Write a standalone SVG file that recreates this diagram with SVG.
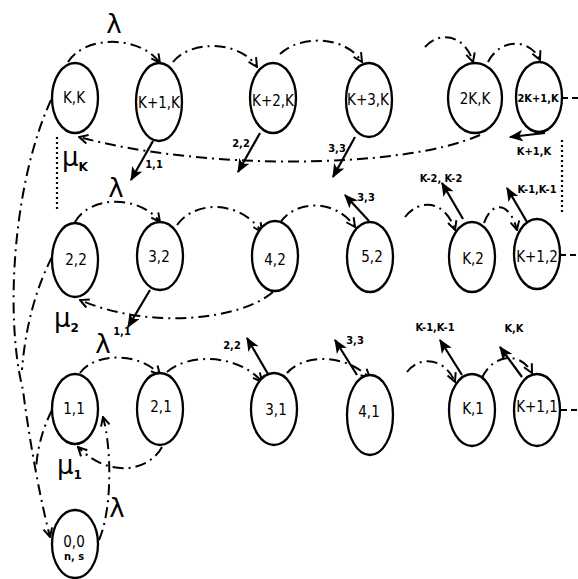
<svg xmlns="http://www.w3.org/2000/svg" width="578" height="579" viewBox="0 0 578 579">
<style>
.n ellipse{fill:#fff;stroke:#000;stroke-width:2.3}
.t{font-family:"DejaVu Sans Condensed","DejaVu Sans",sans-serif;font-size:15px;text-anchor:middle;fill:#000}
.s{font-family:"DejaVu Sans Condensed","DejaVu Sans",sans-serif;font-size:11px;font-weight:bold;text-anchor:middle;fill:#000}
.g{font-family:"DejaVu Sans","Liberation Sans",sans-serif;font-size:26px;fill:#000}
.dd{fill:none;stroke:#000;stroke-width:2;stroke-dasharray:11 5 2 5}
.sl{fill:none;stroke:#000;stroke-width:2.2}
.dt{fill:none;stroke:#000;stroke-width:2.2;stroke-dasharray:2 3}
.dh{fill:none;stroke:#000;stroke-width:2;stroke-dasharray:6 4}
</style>
<defs>
<marker id="o" viewBox="0 0 10 10" refX="9" refY="5" markerWidth="11" markerHeight="11" markerUnits="userSpaceOnUse" orient="auto">
<path d="M1,1 L9,5 L1,9" fill="none" stroke="#000" stroke-width="1.8"/>
</marker>
<marker id="f" viewBox="0 0 12 10" refX="11" refY="5" markerWidth="14" markerHeight="12" markerUnits="userSpaceOnUse" orient="auto">
<path d="M0,0 L12,5 L0,10 L3,5 z" fill="#000"/>
</marker>
</defs>
<g id="connectors">
<path class="dd" d="M68,62 C85,35 140,35 160,63" marker-end="url(#o)"/>
<path class="dd" d="M173,62 C190,40 240,40 257,67" marker-end="url(#o)"/>
<path class="dd" d="M280,54 C300,35 345,35 362,62" marker-end="url(#o)"/>
<path class="dd" d="M425,47 C440,30 465,35 473,62" marker-end="url(#o)"/>
<path class="dd" d="M488,62 C500,38 530,38 540,60" marker-end="url(#o)"/>
<path class="dh" d="M562,98 L578,98"/>
<path class="dd" d="M480,135 C400,170 200,170 79,137" marker-end="url(#o)"/>
<path class="sl" d="M545,133 L510,137" marker-end="url(#f)"/>
<path class="dt" d="M57,137 L57,210"/>
<path class="dt" d="M562,140 L562,212"/>
<path class="sl" d="M153,141 L131,180" marker-end="url(#f)"/>
<path class="sl" d="M260,133 L238,172" marker-end="url(#f)"/>
<path class="sl" d="M355,137 L333,177" marker-end="url(#f)"/>
<path class="dd" d="M51,100 C12,185 5,320 23,390 C28,430 38,490 50,537" marker-end="url(#o)"/>
<path class="dd" d="M52,257 C35,290 25,330 22,370"/>
<path class="dd" d="M52,410 C42,430 37,450 36,470"/>
<path class="dd" d="M75,222 C90,195 140,195 160,222" marker-end="url(#o)"/>
<path class="dd" d="M177,225 C195,200 240,200 262,232" marker-end="url(#o)"/>
<path class="dd" d="M280,223 C295,200 335,198 355,227" marker-end="url(#o)"/>
<path class="sl" d="M369,221 L345,195" marker-end="url(#f)"/>
<path class="dd" d="M405,217 C420,198 445,200 455,230" marker-end="url(#o)"/>
<path class="sl" d="M463,219 L442,183" marker-end="url(#f)"/>
<path class="dd" d="M484,223 C492,200 510,202 517,230" marker-end="url(#o)"/>
<path class="sl" d="M527,222 L507,188" marker-end="url(#f)"/>
<path class="dh" d="M560,255 L578,255"/>
<path class="dd" d="M273,292 C240,320 150,330 80,300" marker-end="url(#o)"/>
<path class="sl" d="M150,290 L128,327" marker-end="url(#f)"/>
<path class="dd" d="M80,373 C95,352 140,352 160,375" marker-end="url(#o)"/>
<path class="dd" d="M167,372 C190,352 240,355 262,382" marker-end="url(#o)"/>
<path class="sl" d="M268,374 L247,338" marker-end="url(#f)"/>
<path class="dd" d="M287,373 C300,357 340,350 370,378" marker-end="url(#o)"/>
<path class="sl" d="M357,375 L335,340" marker-end="url(#f)"/>
<path class="dd" d="M407,372 C420,355 445,358 455,382" marker-end="url(#o)"/>
<path class="sl" d="M462,375 L440,340" marker-end="url(#f)"/>
<path class="dd" d="M482,378 C492,355 520,350 532,373" marker-end="url(#o)"/>
<path class="sl" d="M522,377 L500,347" marker-end="url(#f)"/>
<path class="dh" d="M561,410 L578,410"/>
<path class="dd" d="M162,447 C150,470 110,480 78,447" marker-end="url(#o)"/>
<path class="dd" d="M99,540 C112,510 112,450 103,417" marker-end="url(#o)"/>
</g>
<g id="labels">
<text class="g" x="114" y="33" text-anchor="middle">λ</text>
<text class="g" x="116" y="197" text-anchor="middle">λ</text>
<text class="g" x="103" y="353" text-anchor="middle">λ</text>
<text class="g" x="117" y="517" text-anchor="middle">λ</text>
<text class="g" x="62" y="166">μ<tspan font-size="12" font-weight="bold" dy="5">K</tspan></text>
<text class="g" x="54" y="327">μ<tspan font-size="12" font-weight="bold" dy="5">2</tspan></text>
<text class="g" x="57" y="474">μ<tspan font-size="12" font-weight="bold" dy="5">1</tspan></text>
<text class="s" x="154" y="168">1,1</text>
<text class="s" x="241" y="147">2,2</text>
<text class="s" x="337" y="152">3,3</text>
<text class="s" x="534" y="155">K+1,K</text>
<text class="s" x="366" y="201">3,3</text>
<text class="s" x="441" y="182">K-2, K-2</text>
<text class="s" x="537" y="193">K-1,K-1</text>
<text class="s" x="122" y="335">1,1</text>
<text class="s" x="232" y="349">2,2</text>
<text class="s" x="355" y="344">3,3</text>
<text class="s" x="435" y="331">K-1,K-1</text>
<text class="s" x="514" y="332">K,K</text>
</g>
<g id="n-KK" class="n"><ellipse cx="75" cy="98" rx="23" ry="35"/><text class="t" x="74" y="103">K,K</text></g>
<g id="n-K1K" class="n"><ellipse cx="159" cy="102" rx="23" ry="39"/><text class="t" x="159" y="108">K+1,K</text></g>
<g id="n-K2K" class="n"><ellipse cx="273" cy="98" rx="23" ry="35"/><text class="t" x="273" y="106">K+2,K</text></g>
<g id="n-K3K" class="n"><ellipse cx="369" cy="100" rx="23" ry="37"/><text class="t" x="368" y="105">K+3,K</text></g>
<g id="n-2KK" class="n"><ellipse cx="475" cy="98" rx="27" ry="35"/><text class="t" x="475" y="104">2K,K</text></g>
<g id="n-2K1K" class="n"><ellipse cx="539" cy="97" rx="23" ry="35"/><text class="s" x="538" y="102">2K+1,K</text></g>
<g id="n-22" class="n"><ellipse cx="75" cy="260" rx="23" ry="37"/><text class="t" x="76" y="265">2,2</text></g>
<g id="n-32" class="n"><ellipse cx="160" cy="256" rx="23" ry="34"/><text class="t" x="159" y="262">3,2</text></g>
<g id="n-42" class="n"><ellipse cx="275" cy="256" rx="23" ry="35"/><text class="t" x="275" y="265">4,2</text></g>
<g id="n-52" class="n"><ellipse cx="370" cy="257" rx="23" ry="35"/><text class="t" x="372" y="262">5,2</text></g>
<g id="n-K2" class="n"><ellipse cx="472" cy="257" rx="23" ry="35"/><text class="t" x="473" y="264">K,2</text></g>
<g id="n-K12" class="n"><ellipse cx="537" cy="254" rx="23" ry="35"/><text class="t" x="537" y="262">K+1,2</text></g>
<g id="n-11" class="n"><ellipse cx="75" cy="409" rx="23" ry="35"/><text class="t" x="74" y="414">1,1</text></g>
<g id="n-21" class="n"><ellipse cx="160" cy="409" rx="23" ry="36"/><text class="t" x="161" y="412">2,1</text></g>
<g id="n-31" class="n"><ellipse cx="274" cy="409" rx="23" ry="36"/><text class="t" x="276" y="415">3,1</text></g>
<g id="n-41" class="n"><ellipse cx="370" cy="415" rx="23" ry="40"/><text class="t" x="369" y="417">4,1</text></g>
<g id="n-K1" class="n"><ellipse cx="472" cy="410" rx="23" ry="36"/><text class="t" x="473" y="414">K,1</text></g>
<g id="n-K11" class="n"><ellipse cx="537" cy="410" rx="23" ry="36"/><text class="t" x="537" y="412">K+1,1</text></g>
<g id="n-00" class="n"><ellipse cx="75" cy="544" rx="23" ry="34"/><text class="t" x="74" y="547">0,0</text><text class="s" x="74" y="560" font-size="10">n, s</text></g>
</svg>
